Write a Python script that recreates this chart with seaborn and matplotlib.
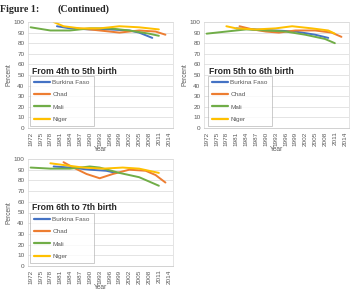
import matplotlib
matplotlib.use("Agg")
import matplotlib.pyplot as plt
import seaborn as sns
import pandas as pd

countries = ["Burkina Faso", "Chad", "Mali", "Niger"]
colors = ["#4472C4", "#ED7D31", "#70AD47", "#FFC000"]
year_ticks = list(range(1972, 2015, 3))
y_ticks = list(range(0, 101, 10))

# Panel 1: From 4th to 5th birth
p1_bf_x = [1980, 1984, 1990, 1996, 2002, 2005, 2009]
p1_bf_y = [96, 94, 93, 93, 92, 90, 85]
p1_td_x = [1986, 1990, 1993, 1999, 2005, 2010, 2013]
p1_td_y = [94, 93, 92, 90, 92, 91, 88]
p1_ml_x = [1972, 1978, 1984, 1990, 1996, 2002, 2008, 2011]
p1_ml_y = [95, 92, 92, 94, 94, 92, 89, 87]
p1_ne_x = [1979, 1982, 1987, 1993, 1999, 2005, 2011]
p1_ne_y = [100, 96, 94, 94, 96, 95, 93]

# Panel 2: From 5th to 6th birth
p2_bf_x = [1981, 1987, 1993, 1999, 2005, 2009]
p2_bf_y = [94, 93, 92, 91, 88, 85]
p2_td_x = [1982, 1986, 1990, 1994, 1999, 2005, 2010, 2013]
p2_td_y = [96, 93, 91, 90, 92, 92, 90, 86]
p2_ml_x = [1972, 1978, 1984, 1990, 1996, 2002, 2008, 2011]
p2_ml_y = [89, 91, 93, 92, 91, 88, 84, 80]
p2_ne_x = [1978, 1981, 1987, 1993, 1998, 2004, 2009, 2011]
p2_ne_y = [96, 94, 93, 94, 96, 94, 92, 89]

# Panel 3: From 6th to 7th birth
p3_bf_x = [1979, 1984, 1990, 1995, 1998]
p3_bf_y = [93, 92, 90, 89, 87]
p3_td_x = [1982, 1985, 1989, 1993, 1997, 2002, 2007, 2010, 2013]
p3_td_y = [97, 92, 86, 82, 86, 90, 89, 85, 78]
p3_ml_x = [1972, 1978, 1984, 1990, 1993, 1999, 2005, 2011]
p3_ml_y = [92, 91, 91, 93, 92, 87, 83, 75]
p3_ne_x = [1978, 1983, 1988, 1994, 2000, 2005, 2011]
p3_ne_y = [96, 94, 92, 91, 92, 91, 87]

panels = [
    ("From 4th to 5th birth",
     [(p1_bf_x, p1_bf_y), (p1_td_x, p1_td_y), (p1_ml_x, p1_ml_y), (p1_ne_x, p1_ne_y)]),
    ("From 5th to 6th birth",
     [(p2_bf_x, p2_bf_y), (p2_td_x, p2_td_y), (p2_ml_x, p2_ml_y), (p2_ne_x, p2_ne_y)]),
    ("From 6th to 7th birth",
     [(p3_bf_x, p3_bf_y), (p3_td_x, p3_td_y), (p3_ml_x, p3_ml_y), (p3_ne_x, p3_ne_y)]),
]

sns.set_style("white")
plt.rcParams["font.family"] = ["Liberation Sans", "DejaVu Sans"]

W, H = 356, 295
fig = plt.figure(figsize=(W / 100, H / 100), dpi=100)

layout = [
    dict(ax=(28, 22, 173, 128), lab=(32, 71), leg=(30, 76)),
    dict(ax=(204, 22, 349, 128), lab=(209, 71), leg=(208, 76)),
    dict(ax=(28, 159, 173, 266), lab=(32, 208), leg=(30, 213)),
]

fig.text(0 / W, 1 - 9 / H, "Figure 1:", fontsize=7.2, fontweight="bold",
         family="Liberation Serif", va="center", ha="left")
fig.text(58 / W, 1 - 9 / H, "(Continued)", fontsize=7.2, fontweight="bold",
         family="Liberation Serif", va="center", ha="left")

tick_color = "#595959"
for (label, series), lay in zip(panels, layout):
    l, t, r, b = lay["ax"]
    ax = fig.add_axes([l / W, 1 - b / H, (r - l) / W, (b - t) / H])
    rows = []
    for c, (xs, ys) in zip(countries, series):
        for x, y in zip(xs, ys):
            rows.append({"Year": x, "Percent": y, "Country": c})
    df = pd.DataFrame(rows)
    sns.lineplot(data=df, x="Year", y="Percent", hue="Country",
                 hue_order=countries, palette=colors, ax=ax, linewidth=1.4,
                 legend=True)
    ax.set_xlim(1971.2, 2015.3)
    ax.set_ylim(0, 100)
    ax.set_xticks(year_ticks)
    ax.set_xticklabels([str(y) for y in year_ticks], rotation=90)
    ax.set_yticks(y_ticks)
    ax.tick_params(axis="both", labelsize=4.6, colors=tick_color, length=1.5,
                   width=0.4, pad=1)
    ax.grid(axis="y", color="#D9D9D9", linewidth=0.5)
    ax.set_axisbelow(True)
    for s in ax.spines.values():
        s.set_color("#D9D9D9")
        s.set_linewidth(0.5)
    ax.spines["bottom"].set_color("#BFBFBF")
    ax.set_xlabel("Year", fontsize=4.8, color=tick_color, labelpad=0)
    ax.set_ylabel("Percent", fontsize=4.8, color=tick_color, labelpad=1)
    handles, labels = ax.get_legend_handles_labels()
    lx, ly = lay["leg"]
    leg = ax.legend(handles, labels, loc="upper left",
                    bbox_to_anchor=(lx / W, 1 - ly / H),
                    bbox_transform=fig.transFigure, borderaxespad=0,
                    fontsize=4.6, frameon=True, fancybox=False,
                    handlelength=2.6, labelspacing=1.05, borderpad=0.6,
                    handletextpad=0.3)
    leg.get_frame().set_edgecolor("#A6A6A6")
    leg.get_frame().set_linewidth(0.5)
    for txt in leg.get_texts():
        txt.set_color(tick_color)
    for ln in leg.get_lines():
        ln.set_linewidth(1.6)
    bx, by = lay["lab"]
    fig.text(bx / W, 1 - by / H, label, fontsize=6.2, fontweight="bold",
             va="center", ha="left")

fig.savefig("out.png", dpi=100)
